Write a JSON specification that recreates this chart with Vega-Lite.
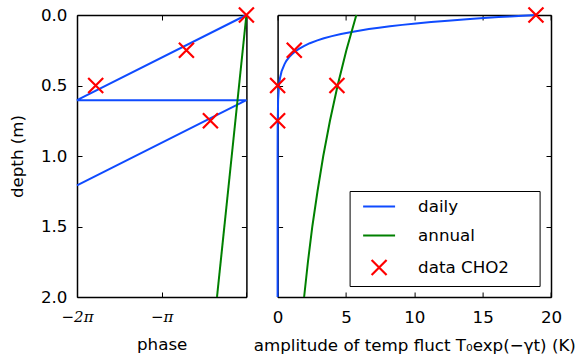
{
  "$schema": "https://vega.github.io/schema/vega-lite/v6.json",
  "padding": {"left": 9, "top": 3, "right": 2, "bottom": 4},
  "background": "white",
  "bounds": "flush",
  "spacing": 30.6,
  "datasets": {
    "phase": [
      {"series": "daily", "k": 0, "depth": 0.0, "phase": 0.0},
      {"series": "daily", "k": 1, "depth": 0.604, "phase": -6.2832},
      {"series": "daily", "k": 2, "depth": 0.604, "phase": 0.0},
      {"series": "daily", "k": 3, "depth": 1.208, "phase": -6.2832},
      {"series": "annual", "k": 0, "depth": 0.0, "phase": 0.0},
      {"series": "annual", "k": 1, "depth": 2.0, "phase": -1.09}
    ],
    "amp": [
      {"series": "daily", "depth": 0.0, "amp": 18.9},
      {"series": "daily", "depth": 0.005, "amp": 17.94},
      {"series": "daily", "depth": 0.01, "amp": 17.03},
      {"series": "daily", "depth": 0.015, "amp": 16.17},
      {"series": "daily", "depth": 0.02, "amp": 15.35},
      {"series": "daily", "depth": 0.025, "amp": 14.57},
      {"series": "daily", "depth": 0.03, "amp": 13.83},
      {"series": "daily", "depth": 0.04, "amp": 12.46},
      {"series": "daily", "depth": 0.05, "amp": 11.23},
      {"series": "daily", "depth": 0.06, "amp": 10.12},
      {"series": "daily", "depth": 0.07, "amp": 9.12},
      {"series": "daily", "depth": 0.08, "amp": 8.22},
      {"series": "daily", "depth": 0.09, "amp": 7.41},
      {"series": "daily", "depth": 0.1, "amp": 6.68},
      {"series": "daily", "depth": 0.12, "amp": 5.42},
      {"series": "daily", "depth": 0.135, "amp": 4.64},
      {"series": "daily", "depth": 0.15, "amp": 3.97},
      {"series": "daily", "depth": 0.165, "amp": 3.39},
      {"series": "daily", "depth": 0.18, "amp": 2.91},
      {"series": "daily", "depth": 0.2, "amp": 2.36},
      {"series": "daily", "depth": 0.22, "amp": 1.92},
      {"series": "daily", "depth": 0.24, "amp": 1.56},
      {"series": "daily", "depth": 0.26, "amp": 1.26},
      {"series": "daily", "depth": 0.28, "amp": 1.03},
      {"series": "daily", "depth": 0.3, "amp": 0.83},
      {"series": "daily", "depth": 0.325, "amp": 0.64},
      {"series": "daily", "depth": 0.35, "amp": 0.5},
      {"series": "daily", "depth": 0.4, "amp": 0.29},
      {"series": "daily", "depth": 0.45, "amp": 0.17},
      {"series": "daily", "depth": 0.5, "amp": 0.1},
      {"series": "daily", "depth": 0.6, "amp": 0.037},
      {"series": "daily", "depth": 0.8, "amp": 0.005},
      {"series": "daily", "depth": 1.0, "amp": 0.0},
      {"series": "daily", "depth": 1.5, "amp": 0.0},
      {"series": "daily", "depth": 2.0, "amp": 0.0},
      {"series": "annual", "depth": 0.0, "amp": 5.76},
      {"series": "annual", "depth": 0.25, "amp": 5.03},
      {"series": "annual", "depth": 0.5, "amp": 4.39},
      {"series": "annual", "depth": 0.75, "amp": 3.83},
      {"series": "annual", "depth": 1.0, "amp": 3.34},
      {"series": "annual", "depth": 1.25, "amp": 2.92},
      {"series": "annual", "depth": 1.5, "amp": 2.54},
      {"series": "annual", "depth": 1.75, "amp": 2.22},
      {"series": "annual", "depth": 2.0, "amp": 1.94}
    ],
    "obsPhase": [
      {"series": "data CHO2", "depth": 0.0, "phase": 0.0},
      {"series": "data CHO2", "depth": 0.25, "phase": -2.225},
      {"series": "data CHO2", "depth": 0.5, "phase": -5.59},
      {"series": "data CHO2", "depth": 0.75, "phase": -1.335}
    ],
    "obsAmp": [
      {"series": "data CHO2", "depth": 0.0, "amp": 18.9},
      {"series": "data CHO2", "depth": 0.25, "amp": 1.22},
      {"series": "data CHO2", "depth": 0.5, "amp": 0.0},
      {"series": "data CHO2", "depth": 0.5, "amp": 4.34},
      {"series": "data CHO2", "depth": 0.75, "amp": 0.0}
    ]
  },
  "config": {
    "view": {"stroke": null},
    "font": "DejaVu Sans",
    "axis": {
      "grid": false,
      "domainColor": "black",
      "domainWidth": 1.5,
      "tickColor": "black",
      "tickWidth": 1,
      "tickSize": -5,
      "labelFont": "DejaVu Sans",
      "labelFontSize": 16.7,
      "labelColor": "black",
      "labelFlush": false,
      "labelOverlap": false,
      "titleFont": "DejaVu Sans",
      "titleFontSize": 16.7,
      "titleFontWeight": "normal",
      "titleColor": "black",
      "zindex": 1
    },
    "legend": {
      "strokeColor": "black",
      "fillColor": "white",
      "padding": 6.5,
      "rowPadding": 11,
      "symbolSize": 225,
      "symbolStrokeWidth": 2.2,
      "symbolOffset": 14,
      "labelOffset": 30,
      "labelFontSize": 16.7,
      "labelFont": "DejaVu Sans",
      "labelColor": "black",
      "symbolOpacity": 1,
      "titleOrient": "right",
      "titleFontSize": 10,
      "titlePadding": 24
    }
  },
  "resolve": {
    "scale": {"color": "independent", "shape": "independent"},
    "legend": {"color": "independent", "shape": "independent"}
  },
  "hconcat": [
    {
      "width": 169.4,
      "height": 282,
      "resolve": {"axis": {"x": "independent", "y": "independent"}},
      "layer": [
        {
          "data": {"name": "phase"},
          "mark": {"type": "line", "strokeWidth": 2},
          "encoding": {
            "x": {"field": "phase", "type": "quantitative",
                  "scale": {"domain": [-6.283185, 0], "nice": false, "zero": false},
                  "axis": {"orient": "bottom", "title": "phase", "values": [-6.283185, -3.141593, 0],
                           "labelExpr": "datum.value < -6 ? '−2π' : (datum.value < -3 ? '−π' : '')",
                           "labelFont": "DejaVu Serif", "labelFontStyle": "italic", "labelFontSize": 15,
                           "labelPadding": 17, "titlePadding": 12}},
            "y": {"field": "depth", "type": "quantitative",
                  "scale": {"domain": [0, 2], "reverse": true, "nice": false},
                  "axis": {"orient": "left", "title": "depth (m)", "values": [0, 0.5, 1, 1.5, 2], "format": ".1f",
                           "labelPadding": 15, "titlePadding": 14}},
            "color": {"field": "series", "type": "nominal",
                      "scale": {"domain": ["daily", "annual"], "range": ["#0f4bff", "#008000"]},
                      "legend": null},
            "order": {"field": "k"}
          }
        },
        {
          "data": {"name": "obsPhase"},
          "mark": {"type": "point", "shape": "M-1,-1L1,1M1,-1L-1,1", "size": 225,
                   "strokeWidth": 2.2, "color": "#ff0000", "filled": false, "opacity": 1},
          "encoding": {
            "x": {"field": "phase", "type": "quantitative",
                  "axis": {"orient": "top", "title": null, "labels": false, "values": [-6.283185, -3.141593, 0]}},
            "y": {"field": "depth", "type": "quantitative",
                  "axis": {"orient": "right", "title": null, "labels": false, "values": [0, 0.5, 1, 1.5, 2]}}
          }
        }
      ]
    },
    {
      "width": 273.4,
      "height": 282,
      "resolve": {"axis": {"x": "independent", "y": "independent"}},
      "layer": [
        {
          "data": {"name": "amp"},
          "mark": {"type": "line", "strokeWidth": 2},
          "encoding": {
            "x": {"field": "amp", "type": "quantitative",
                  "scale": {"domain": [0, 20], "nice": false},
                  "axis": {"orient": "bottom", "title": "amplitude of temp fluct T₀exp(−γt) (K)", "values": [0, 5, 10, 15, 20],
                           "labelPadding": 17, "titlePadding": 12}},
            "y": {"field": "depth", "type": "quantitative",
                  "scale": {"domain": [0, 2], "reverse": true, "nice": false},
                  "axis": {"orient": "left", "title": null, "labels": false, "values": [0, 0.5, 1, 1.5, 2]}},
            "color": {"field": "series", "type": "nominal",
                      "scale": {"domain": ["daily", "annual", "data CHO2"], "range": ["#0f4bff", "#008000", "#ff0000"]}},
            "order": {"field": "depth"}
          }
        },
        {
          "data": {"name": "obsAmp"},
          "mark": {"type": "point", "size": 225, "strokeWidth": 2.2, "filled": false, "opacity": 1},
          "encoding": {
            "x": {"field": "amp", "type": "quantitative",
                  "axis": {"orient": "top", "title": null, "labels": false, "values": [0, 5, 10, 15, 20]}},
            "y": {"field": "depth", "type": "quantitative",
                  "axis": {"orient": "right", "title": null, "labels": false, "values": [0, 0.5, 1, 1.5, 2]}},
            "color": {"field": "series", "type": "nominal",
                      "legend": {"title": "\u00a0", "orient": "bottom-right", "offset": 11,
                                 "encode": {"legend": {"update": {"strokeWidth": {"value": 1.5}}}}}},
            "shape": {"field": "series", "type": "nominal",
                      "scale": {"domain": ["daily", "annual", "data CHO2"],
                                "range": ["M-2.13,0L2.13,0", "M-2.13,0L2.13,0", "M-1,-1L1,1M1,-1L-1,1"]},
                      "legend": {"title": "\u00a0", "orient": "bottom-right", "offset": 11,
                                 "encode": {"legend": {"update": {"strokeWidth": {"value": 1.5}}}}}}
          }
        }
      ]
    }
  ]
}
